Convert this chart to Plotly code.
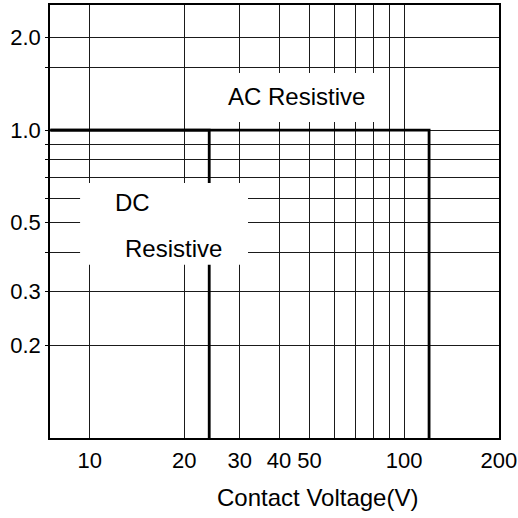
import plotly.graph_objects as go

# ---- data ----
dc_voltage = [7.5, 24, 24]
dc_current = [1.0, 1.0, 0.1]
ac_voltage = [7.5, 120, 120]
ac_current = [1.0, 1.0, 0.1]

x_grid = [10, 20, 30, 40, 50, 60, 70, 80, 90, 100, 200]
x_labels = ["10", "20", "30", "40", "50", "", "", "", "", "100", "200"]
y_grid = [0.2, 0.3, 0.4, 0.5, 0.6, 0.7, 0.8, 0.9, 1.0, 1.6, 2.0]
y_labels = ["0.2", "0.3", "", "0.5", "", "", "", "", "1.0", "", "2.0"]

FONT = "Liberation Sans, Arial, sans-serif"

fig = go.Figure()
for xs, ys in ((ac_voltage, ac_current), (dc_voltage, dc_current)):
    fig.add_trace(go.Scatter(x=xs, y=ys, mode="lines",
                             line=dict(color="black", width=2.8),
                             showlegend=False, hoverinfo="skip"))

fig.update_xaxes(type="log", range=[0.874, 2.3015], automargin=False,
                 tickvals=x_grid, ticktext=x_labels,
                 showgrid=True, gridcolor="#1a1a1a", gridwidth=1.1,
                 showline=True, mirror=True, linecolor="black", linewidth=1.5,
                 ticks="", ticklabelstandoff=2, zeroline=False,
                 tickfont=dict(family=FONT, size=22, color="black"))
fig.update_yaxes(type="log", range=[-1, 0.406], automargin=False,
                 tickvals=y_grid, ticktext=y_labels,
                 showgrid=True, gridcolor="#1a1a1a", gridwidth=1.1,
                 showline=True, mirror=True, linecolor="black", linewidth=1.5,
                 ticks="outside", ticklen=3, tickcolor="black", zeroline=False,
                 tickfont=dict(family=FONT, size=22, color="black"))

# white label backgrounds (paper coordinates)
fig.add_shape(type="rect", xref="paper", yref="paper",
              x0=0.390, x1=0.746, y0=0.730, y1=0.843,
              fillcolor="white", line=dict(width=0), layer="above")
fig.add_shape(type="rect", xref="paper", yref="paper",
              x0=0.067, x1=0.441, y0=0.400, y1=0.589,
              fillcolor="white", line=dict(width=0), layer="above")

ann_font = dict(family=FONT, size=24, color="black")
common = dict(xref="paper", yref="paper", showarrow=False,
              xanchor="center", yanchor="middle")
fig.add_annotation(text="AC Resistive", x=0.548, y=0.788, font=ann_font, **common)
fig.add_annotation(text="DC", x=0.183, y=0.545, font=ann_font, **common)
fig.add_annotation(text="Resistive", x=0.274, y=0.4365, font=ann_font, **common)
fig.add_annotation(text="Contact Voltage(V)", x=0.595, y=-0.138,
                   font=dict(family=FONT, size=24, color="black"), **common)

fig.update_layout(width=518, height=518, autosize=False,
                  margin=dict(l=50, r=19, t=5, b=80),
                  paper_bgcolor="white", plot_bgcolor="white")

fig.write_html("out.html", config={"displayModeBar": False},
               post_script="document.body.style.margin='0';document.body.style.overflow='hidden';")
